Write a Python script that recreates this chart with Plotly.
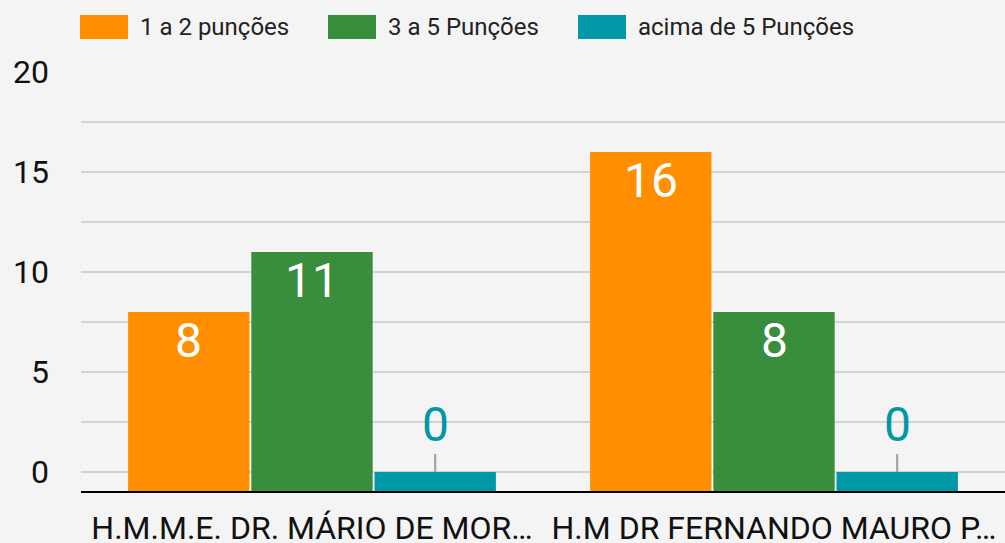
import plotly.graph_objects as go

# ---- data ----
categories = ["H.M.M.E. DR. MÁRIO DE MOR…", "H.M DR FERNANDO MAURO P…"]
series_names = ["1 a 2 punções", "3 a 5 Punções", "acima de 5 Punções"]
values_1a2 = [8, 16]
values_3a5 = [11, 8]
values_acima5 = [0, 0]
y_tick_vals = [0, 5, 10, 15, 20]

# ---- style ----
colors = ["#FF8F00", "#388E3C", "#0097A7"]
BG = "#f4f4f4"
FONT = "Roboto"
BASELINE = -0.95   # axis baseline below zero
BARGAP = 0.2
GROUPGAP = 0.015
ML, MT, MB = 81, 72, 52
W, H = 1005, 543
PW, PH = W - ML, H - MT - MB

all_series = [values_1a2, values_3a5, values_acima5]
x_pos = list(range(len(categories)))

fig = go.Figure()
for name, vals, col in zip(series_names, all_series, colors):
    fig.add_trace(go.Bar(
        x=x_pos,
        y=[v - BASELINE for v in vals],
        base=BASELINE,
        name=name,
        marker=dict(color=col, line=dict(width=0)),
        showlegend=False,
        hoverinfo="skip",
    ))

# value labels
n = len(all_series)
slot = (1 - BARGAP) / n
annotations = []
for k, vals in enumerate(all_series):
    for i, v in enumerate(vals):
        xc = x_pos[i] - (1 - BARGAP) / 2 + (k + 0.5) * slot
        if v == 0:
            annotations.append(dict(
                x=xc, y=v, xref="x", yref="y",
                text=str(v), showarrow=True, arrowhead=0,
                arrowcolor="#9e9e9e", arrowwidth=2,
                ax=0, ay=-48,
                font=dict(family=FONT, size=48, color=colors[k]),
            ))
        else:
            annotations.append(dict(
                x=xc, y=v, xref="x", yref="y",
                text=str(v), showarrow=False,
                xanchor="center", yanchor="top", yshift=2,
                font=dict(family=FONT, size=48, color="white"),
            ))

# custom legend (large swatches)
shapes = []
leg_x = [80, 328, 578]
for name, col, lx in zip(series_names, colors, leg_x):
    shapes.append(dict(type="rect", xref="paper", yref="paper",
                       x0=(lx - ML) / PW, x1=(lx + 48 - ML) / PW,
                       y0=(H - MB - 39) / PH, y1=(H - MB - 15) / PH,
                       fillcolor=col, line=dict(width=0), layer="above"))
    annotations.append(dict(xref="paper", yref="paper",
                            x=(lx + 58 - ML) / PW, y=(H - MB - 27) / PH,
                            xanchor="left", yanchor="middle", showarrow=False,
                            text=name, font=dict(family=FONT, size=24, color="#222222")))

fig.update_layout(
    width=W, height=H,
    margin=dict(l=ML, r=0, t=MT, b=MB, autoexpand=False),
    paper_bgcolor=BG, plot_bgcolor=BG,
    barmode="group", bargap=BARGAP, bargroupgap=GROUPGAP,
    font=dict(family=FONT, color="#222222"),
    annotations=annotations, shapes=shapes,
)
fig.update_xaxes(
    range=[-0.5, len(categories) - 0.5],
    tickvals=x_pos, ticktext=categories,
    tickfont=dict(family=FONT, size=32, color="#111111"),
    showgrid=False, zeroline=False,
    showline=True, linecolor="#000000", linewidth=2,
    ticks="", ticklabelstandoff=8, automargin=False,
)
fig.update_yaxes(
    range=[BASELINE, 20],
    tickvals=y_tick_vals,
    tickfont=dict(family=FONT, size=32, color="#111111"),
    showgrid=True, gridcolor="#d3d3d3", gridwidth=2,
    minor=dict(dtick=2.5, tick0=0, showgrid=True, gridcolor="#d3d3d3", gridwidth=2),
    zeroline=False, showline=False, ticks="",
    ticklabelstandoff=31, automargin=False,
)

fig.write_html(
    "out.html",
    config={"displayModeBar": False},
    post_script="document.body.style.margin='0';document.body.style.background='%s';" % BG,
)
